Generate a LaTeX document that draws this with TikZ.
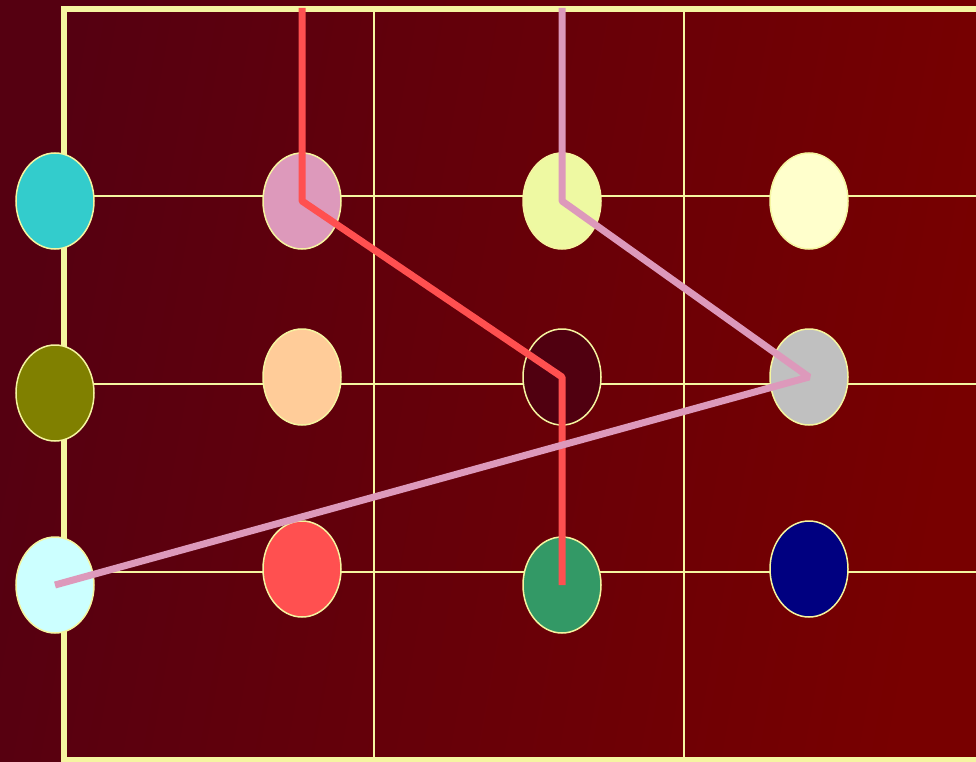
\documentclass[tikz,border=0pt]{standalone}
\usetikzlibrary{shapes.geometric}
\definecolor{bgL}{HTML}{550011}
\definecolor{bgR}{HTML}{780000}
\definecolor{pale}{HTML}{F5F5A0}
\definecolor{cTeal}{HTML}{33CCCC}
\definecolor{cPink}{HTML}{DD99BB}
\definecolor{cLime}{HTML}{EEF9A2}
\definecolor{cCream}{HTML}{FFFFCC}
\definecolor{cOlive}{HTML}{808000}
\definecolor{cPeach}{HTML}{FFCC99}
\definecolor{cMaroon}{HTML}{500010}
\definecolor{cSilver}{HTML}{C0C0C0}
\definecolor{cIce}{HTML}{CCFFFF}
\definecolor{cRed}{HTML}{FF5050}
\definecolor{cGreen}{HTML}{339966}
\definecolor{cNavy}{HTML}{000080}
\tikzset{
  dot/.style={ellipse, draw=pale, line width=1.5pt, minimum width=78pt, minimum height=96pt, inner sep=0pt},
  grid/.style={draw=pale, line width=2pt},
  frame/.style={draw=pale, line width=6pt},
  redpath/.style={draw=cRed, line width=7pt, line join=bevel},
  pinkpath/.style={draw=cPink, line width=7pt, line join=bevel},
}
\begin{document}
\begin{tikzpicture}[x=1pt,y=-1pt]
\useasboundingbox (0,0) rectangle (976,762);
\clip (0,0) rectangle (976,762);
\shade[left color=bgL, right color=bgR, shading angle=80] (0,0) rectangle (976,762);
% grid
\draw[frame] (64,9) rectangle (995,760);
\draw[grid] (374,9) -- (374,760);
\draw[grid] (684,9) -- (684,760);
\draw[grid] (64,196) -- (976,196);
\draw[grid] (64,384) -- (976,384);
\draw[grid] (64,572) -- (976,572);
% nodes
\node[dot, fill=cTeal]   (a1) at (55,201) {};
\node[dot, fill=cPink]   (b1) at (302,201) {};
\node[dot, fill=cLime]   (c1) at (562,201) {};
\node[dot, fill=cCream]  (d1) at (809,201) {};
\node[dot, fill=cOlive]  (a2) at (55,393) {};
\node[dot, fill=cPeach]  (b2) at (302,377) {};
\node[dot, fill=cMaroon] (c2) at (562,377) {};
\node[dot, fill=cSilver] (d2) at (809,377) {};
\node[dot, fill=cIce]    (a3) at (55,585) {};
\node[dot, fill=cRed]    (b3) at (302,569) {};
\node[dot, fill=cGreen]  (c3) at (562,585) {};
\node[dot, fill=cNavy]   (d3) at (809,569) {};
% connectors
\coordinate (rtop) at (302,8);
\coordinate (ptop) at (562,8);
\draw[redpath] (rtop) -- (b1.center) -- (c2.center) -- (c3.center);
\draw[pinkpath] (ptop) -- (c1.center) -- (d2.center) -- (a3.center);
\end{tikzpicture}
\end{document}
